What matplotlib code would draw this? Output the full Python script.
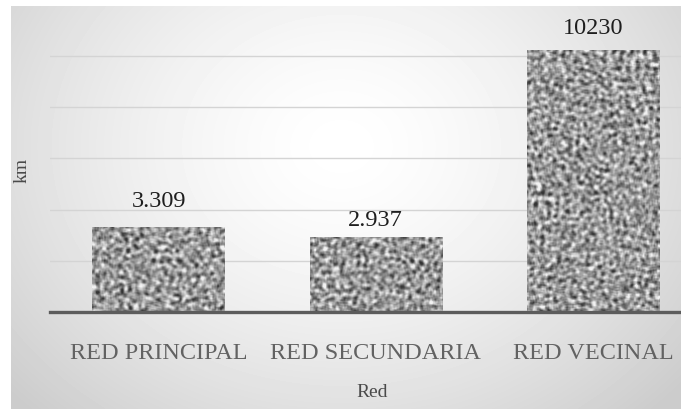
import numpy as np
import matplotlib
matplotlib.use("Agg")
import matplotlib.pyplot as plt

# Road network length by category (km)
categories = ["RED PRINCIPAL", "RED SECUNDARIA", "RED VECINAL"]
lengths_km = [3309, 2937, 10230]
value_labels = ["3.309", "2.937", "10230"]
grid_ticks = [2000, 4000, 6000, 8000, 10000]

W, H, DPI = 681, 410, 100
plt.rcParams["font.family"] = ["Liberation Serif", "DejaVu Serif"]

fig = plt.figure(figsize=(W / DPI, H / DPI), dpi=DPI)
fig.patch.set_facecolor("white")

# soft radial background panel
bg = fig.add_axes([11 / W, 0, 1 - 11 / W, 1 - 7 / H])
yy, xx = np.mgrid[0:403, 0:670]
r = np.sqrt(((xx - 330) / 1.15) ** 2 + ((yy - 140) / 0.95) ** 2)
shade = np.clip(1.0 - 0.18 * (r / 360) ** 1.5, 0.80, 1.0)
bg.imshow(shade, cmap="gray", vmin=0, vmax=1, aspect="auto", interpolation="bilinear")
bg.set_axis_off()


def smooth(a, k):
    ker = np.ones(k) / k
    a = np.apply_along_axis(lambda v: np.convolve(v, ker, mode="same"), 0, a)
    a = np.apply_along_axis(lambda v: np.convolve(v, ker, mode="same"), 1, a)
    return a


rng = np.random.default_rng(11)

# main chart
px_per_unit = 25.6 / 1000
base_y = 313
ymax = 12000
top_y = base_y - ymax * px_per_unit
ax = fig.add_axes([50 / W, 1 - base_y / H, 1 - 50 / W, (base_y - top_y) / H])
ax.set_facecolor("none")
x = np.arange(len(categories))
ax.set_xlim(-0.5, (681 - 159) / 217)
ax.set_ylim(0, ymax)

bars = ax.bar(x, lengths_km, width=0.61, color="#a0a0a0", zorder=2)
for b in bars:
    bw = int(b.get_width() * 217)
    bh = int(b.get_height() * px_per_unit) + 2
    pad = 12
    n = rng.random((bh + 2 * pad, bw + 2 * pad))
    t = smooth(n, 4) - 0.7 * smooth(n, 11)
    t = smooth(t, 2)
    t = t[pad:-pad, pad:-pad]
    t = (t - t.mean()) / t.std()
    tex = np.clip(0.60 + 0.15 * t, 0.2, 0.95)
    im = ax.imshow(tex, cmap="gray", vmin=0, vmax=1, aspect="auto",
                   interpolation="bilinear",
                   extent=(b.get_x(), b.get_x() + b.get_width(), 0, b.get_height()),
                   zorder=3)
    im.set_clip_path(b)

offsets = [27, 17, 23]
for xi, v, lab, off in zip(x, lengths_km, value_labels, offsets):
    ax.annotate(lab, (xi, v), xytext=(0, off * 72 / DPI), textcoords="offset points",
                ha="center", va="center", fontsize=17.5, color="#1e1e1e", zorder=4)

ax.set_yticks(grid_ticks)
ax.yaxis.grid(True, color="#d4d4d4", linewidth=1.0, zorder=0)
ax.tick_params(axis="y", left=False, labelleft=False)
ax.tick_params(axis="x", bottom=False, pad=18, labelsize=17.5, labelcolor="#626262")
ax.set_xticks(x)
ax.set_xticklabels(categories)
for s in ["top", "right", "left"]:
    ax.spines[s].set_visible(False)
ax.spines["bottom"].set_color("#5c5c5c")
ax.spines["bottom"].set_linewidth(2.4)
ax.spines["bottom"].set_zorder(5)

fig.text(372 / W, 1 - 393 / H, "Red", ha="center", va="center", fontsize=14, color="#4a4a4a")
fig.text(22 / W, 1 - 170 / H, "km", ha="center", va="center", rotation=90, fontsize=14, color="#4a4a4a")

fig.savefig("out.png", dpi=DPI)
